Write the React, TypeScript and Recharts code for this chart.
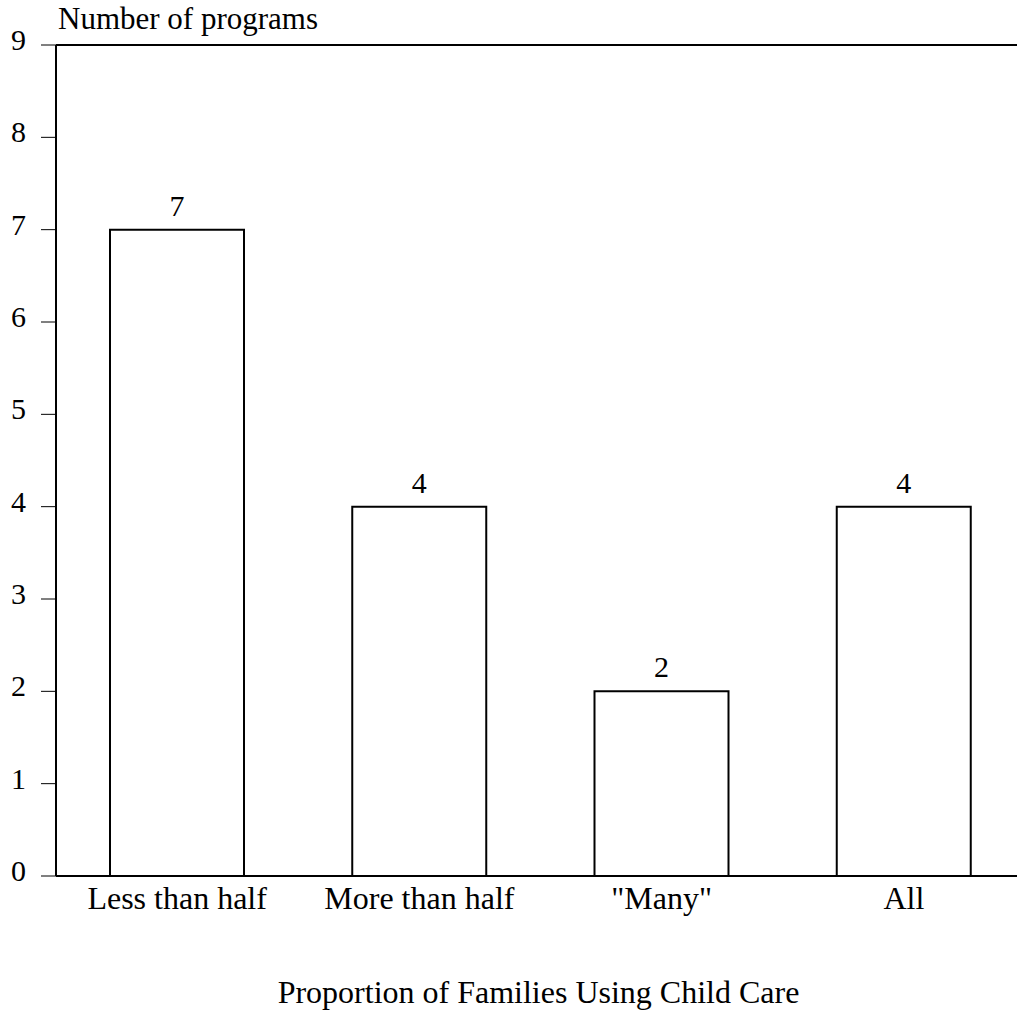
import React from 'react';
import { BarChart, Bar, XAxis, YAxis, ReferenceLine, LabelList, Label } from 'recharts';

const categories = ['Less than half', 'More than half', '"Many"', 'All'];
const programCounts = [7, 4, 2, 4];
const yTicks = [0, 1, 2, 3, 4, 5, 6, 7, 8, 9];
const yTitle = 'Number of programs';
const xTitle = 'Proportion of Families Using Child Care';

const data = categories.map((c, i) => ({ name: c, value: programCounts[i] }));

const FONT = '"Liberation Serif", "Times New Roman", serif';

const XTick = (props: any) => {
  const { x, y, payload } = props;
  return (
    <text x={x} y={y} dy={27} textAnchor="middle" style={{ fontFamily: FONT, fontSize: 32 }} fill="#000">
      {payload.value}
    </text>
  );
};

const YTick = (props: any) => {
  const { x, y, payload } = props;
  return (
    <text x={x} y={y} dy={5} textAnchor="end" style={{ fontFamily: FONT, fontSize: 30 }} fill="#000">
      {payload.value}
    </text>
  );
};

const BarValue = (props: any) => {
  const { x, y, width, value } = props;
  return (
    <text x={x + width / 2} y={y - 14} textAnchor="middle" style={{ fontFamily: FONT, fontSize: 30 }} fill="#000">
      {value}
    </text>
  );
};

export default function App() {
  return (
    <div style={{ position: 'absolute', left: 0, top: 0, width: 1017, height: 1012, overflow: 'hidden', background: '#fff' }}>
      <BarChart
        width={1040}
        height={1012}
        data={data}
        margin={{ top: 45, right: 15, left: 0, bottom: 0 }}
      >
        <XAxis
          dataKey="name"
          height={136}
          axisLine={{ stroke: '#000', strokeWidth: 2 }}
          tickLine={false}
          tickMargin={0}
          tick={<XTick />}
          interval={0}
        >
          <Label
            content={(p: any) => {
              const vb = p.viewBox;
              return (
                <text x={vb.x + vb.width / 2 - 2} y={vb.y + 127} textAnchor="middle" style={{ fontFamily: FONT, fontSize: 32 }} fill="#000">
                  {xTitle}
                </text>
              );
            }}
          />
        </XAxis>
        <YAxis
          width={56}
          domain={[0, 9]}
          ticks={yTicks}
          interval={0}
          axisLine={{ stroke: '#000', strokeWidth: 2 }}
          tickLine={{ stroke: '#000', strokeWidth: 1 }}
          tickSize={15}
          tickMargin={15}
          tick={<YTick />}
        >
          <Label
            content={(p: any) => {
              const vb = p.viewBox;
              return (
                <text x={vb.x + vb.width + 2} y={vb.y - 16} textAnchor="start" style={{ fontFamily: FONT, fontSize: 31 }} fill="#000">
                  {yTitle}
                </text>
              );
            }}
          />
        </YAxis>
        <ReferenceLine y={9} stroke="#000" strokeWidth={2} ifOverflow="visible" />
        <Bar dataKey="value" fill="#fff" stroke="#000" strokeWidth={2} barSize={134} isAnimationActive={false}>
          <LabelList dataKey="value" content={<BarValue />} />
        </Bar>
      </BarChart>
    </div>
  );
}
